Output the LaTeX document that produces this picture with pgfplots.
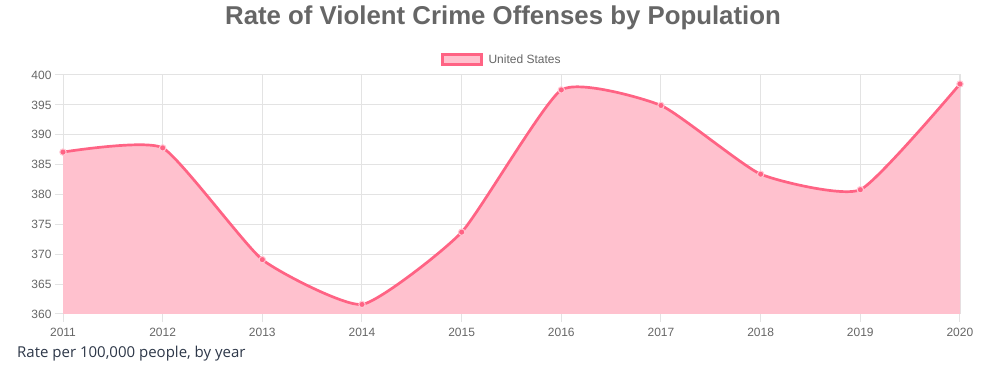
\documentclass[border=0pt]{standalone}
\usepackage{pgfplots}
\pgfplotsset{compat=1.18}
\usepackage{fontspec}
\setmainfont{Liberation Sans}
\newfontfamily\opensans{Open Sans}
\definecolor{linec}{HTML}{FF6384}
\definecolor{fillc}{HTML}{FFC1CE}
\definecolor{gridc}{HTML}{E3E3E3}
\definecolor{tickc}{HTML}{666666}
\definecolor{navy}{HTML}{2D3748}
\begin{document}
\begin{tikzpicture}[x=1pt,y=1pt]
\useasboundingbox (0,0) rectangle (993,377);
\node[font=\fontsize{25.8}{30}\selectfont\bfseries, text=tickc] at (503,359) {Rate of Violent Crime Offenses by Population};
\node[font=\opensans\fontsize{15}{18}\selectfont, text=navy, anchor=west, inner sep=0pt] at (17,23) {Rate per 100,000 people, by year};
\begin{axis}[at={(63pt,63pt)}, anchor=south west, scale only axis, width=897pt, height=239pt,
  xmin=2011, xmax=2020, ymin=360, ymax=400,
  xtick={2011,2012,...,2020}, ytick={360,365,...,400},
  grid=major, major grid style={gridc, line width=1pt},
  axis line style={gridc, line width=1pt},
  tick style={gridc, line width=1pt}, tick align=outside, major tick length=8pt,
  xtick pos=bottom, ytick pos=left,
  ticklabel style={font=\fontsize{12}{14}\selectfont, text=tickc},
  xticklabel style={yshift=-3pt},
  /pgf/number format/assume math mode=true,
  /pgf/number format/1000 sep={},
  clip=false,
  legend style={at={(0.489,1)}, anchor=south, yshift=6pt, draw=none, fill=none, font=\fontsize{12}{14}\selectfont, text=tickc},
  legend image code/.code={\draw[linec, line width=3pt, fill=fillc] (-2pt,-5pt) rectangle (37pt,5pt); \path (41pt,0pt);},
  legend cell align=left,
]
\addplot[fill=fillc, draw=none, smooth, tension=0.3, forget plot] coordinates {
(2011,387.1) (2012,387.8) (2013,369.1) (2014,361.6) (2015,373.7) (2016,397.5) (2017,394.9) (2018,383.4) (2019,380.8) (2020,398.5)} \closedcycle;
\addplot[linec, line width=2.7pt, smooth, tension=0.3, mark=*, mark size=3.2pt, mark options={fill=linec, draw=white!65!linec, line width=1pt}] coordinates {
(2011,387.1) (2012,387.8) (2013,369.1) (2014,361.6) (2015,373.7) (2016,397.5) (2017,394.9) (2018,383.4) (2019,380.8) (2020,398.5)};
\addlegendentry{United States}
\end{axis}
\end{tikzpicture}
\end{document}
